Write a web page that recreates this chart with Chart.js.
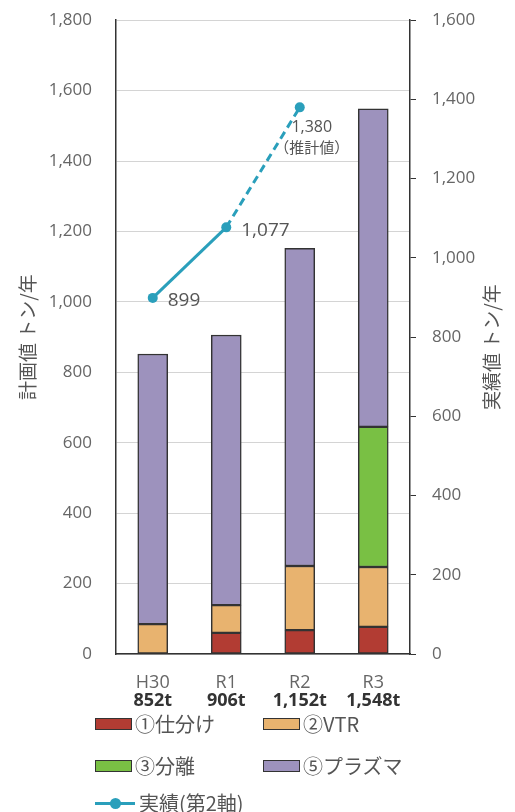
<!DOCTYPE html>
<html>
<head>
<meta charset="utf-8">
<script src="https://cdn.jsdelivr.net/npm/chart.js@4.4.0/dist/chart.umd.min.js"></script>
<style>
body{margin:0;background:#fff;width:515px;height:812px;overflow:hidden;position:relative;font-family:"Noto Sans CJK JP",sans-serif;}
#contenedor{position:absolute;left:0;top:-14px;width:515px;height:726px;}
.item{position:absolute;font-size:20px;color:#555;line-height:1;white-space:nowrap;display:flex;align-items:center;}
.caja{width:35px;height:10px;border:1.5px solid #333;margin-right:3px;}
.linea{position:relative;width:40px;height:3px;margin-right:4px;}
.punto{position:absolute;left:15px;top:-4px;width:11px;height:11px;border-radius:50%;}
</style>
</head>
<body>
<div id="contenedor"><canvas id="graficoPlan" width="515" height="726"></canvas></div>
<div id="leyenda"></div>
<script>
const categorias = ["H30", "R1", "R2", "R3"];
const totalesPlan = ["852t", "906t", "1,152t", "1,548t"];

const shiwake = [null, 60, 68, 77];
const vtr = [85, 79, 182, 170];
const bunri = [null, null, null, 398];
const plasma = [767, 767, 902, 903];
const jisseki = [899, 1077, 1380, null];
const etiquetasJisseki = [["899"], ["1,077"], ["1,380", "（推計値）"], []];

const colorLinea = "#2a9fbb";
const fuenteNum = "'Open Sans', sans-serif";
const fuenteJp = "'Noto Sans CJK JP', sans-serif";

const series = [
    { label: "①仕分け", data: shiwake, color: "#b23c33" },
    { label: "②VTR", data: vtr, color: "#e8b36f" },
    { label: "③分離", data: bunri, color: "#79c044" },
    { label: "⑤プラズマ", data: plasma, color: "#9d92bd" },
];

// etiquetas de datos de la linea y del eje x
const pluginTextos = {
    id: "textos",
    afterDatasetsDraw(chart) {
        const ctx = chart.ctx;
        const meta = chart.getDatasetMeta(series.length);
        ctx.save();
        ctx.fillStyle = "#555";
        ctx.textBaseline = "middle";
        meta.data.forEach((p, i) => {
            const lineas = etiquetasJisseki[i];
            if (!lineas.length || jisseki[i] == null) return;
            if (lineas.length === 1) {
                ctx.font = "19px " + fuenteNum;
                ctx.textAlign = "left";
                ctx.fillText(lineas[0], p.x + 15, p.y + 3);
            } else {
                ctx.textAlign = "center";
                ctx.font = "16px " + fuenteNum;
                ctx.fillText(lineas[0], p.x + 12, p.y + 20);
                ctx.font = "15px " + fuenteJp;
                ctx.fillText(lineas[1], p.x + 12, p.y + 40);
            }
        });

        const x = chart.scales.x;
        ctx.textAlign = "center";
        categorias.forEach((c, i) => {
            const px = x.getPixelForValue(i);
            ctx.font = "18px " + fuenteNum;
            ctx.fillStyle = "#666";
            ctx.fillText(c, px, x.top + 29);
            ctx.font = "bold 18px " + fuenteNum;
            ctx.fillStyle = "#333";
            ctx.fillText(totalesPlan[i], px, x.top + 47);
        });

        // titulo del eje derecho, leido de abajo hacia arriba
        const a = chart.chartArea;
        ctx.font = "19px " + fuenteJp;
        ctx.fillStyle = "#555";
        ctx.translate(492, (a.top + a.bottom) / 2 + 10);
        ctx.rotate(-Math.PI / 2);
        ctx.fillText("実績値 トン/年", 0, 0);
        ctx.restore();
    },
};

const datasets = series.map((s) => ({
    type: "bar",
    label: s.label,
    data: s.data,
    backgroundColor: s.color,
    borderColor: "#333",
    borderWidth: 1.5,
    borderSkipped: false,
    barThickness: 30,
    yAxisID: "y",
    order: 2,
}));

datasets.push({
    type: "line",
    label: "実績(第2軸)",
    data: jisseki,
    borderColor: colorLinea,
    backgroundColor: colorLinea,
    borderWidth: 3,
    pointRadius: 5,
    pointBorderWidth: 0,
    tension: 0,
    yAxisID: "y2",
    order: 1,
    segment: {
        borderDash: (ctx) => (ctx.p0DataIndex === 1 ? [8, 5] : undefined),
    },
});

const configGrafico = {
    data: { labels: categorias, datasets: datasets },
    options: {
        responsive: false,
        animation: false,
        plugins: {
            legend: { display: false },
            tooltip: { enabled: false },
        },
        scales: {
            x: {
                stacked: true,
                grid: { display: false },
                border: { color: "#333", width: 1.5 },
                ticks: { display: false },
                afterFit: (scale) => { scale.height = 58; },
            },
            y: {
                stacked: true,
                position: "left",
                min: 0,
                max: 1800,
                ticks: {
                    stepSize: 200,
                    padding: 24,
                    color: "#666",
                    font: { size: 17, family: fuenteNum },
                    callback: (v) => v.toLocaleString("en-US"),
                },
                grid: { color: "#d4d4d4", drawTicks: false },
                border: { color: "#333", width: 1.5 },
                title: {
                    display: true,
                    text: "計画値 トン/年",
                    color: "#555",
                    font: { size: 19, family: fuenteJp },
                    padding: { top: 16, bottom: 0 },
                },
                afterFit: (scale) => { scale.width = 116; },
            },
            y2: {
                position: "right",
                min: 0,
                max: 1600,
                ticks: {
                    stepSize: 200,
                    padding: 16,
                    color: "#666",
                    font: { size: 17, family: fuenteNum },
                    callback: (v) => v.toLocaleString("en-US"),
                },
                grid: { drawOnChartArea: false, tickLength: 6, color: "#333" },
                border: { color: "#333", width: 1.5 },
                afterFit: (scale) => { scale.width = 105; },
            },
        },
    },
    plugins: [pluginTextos],
};

const graficoPlan = new Chart(document.getElementById("graficoPlan"), configGrafico);

// leyenda en dos columnas
const leyenda = document.getElementById("leyenda");
const posiciones = [[95, 714], [263, 714], [95, 756], [263, 756]];
series.forEach((s, i) => {
    const d = document.createElement("div");
    d.className = "item";
    d.style.left = posiciones[i][0] + "px";
    d.style.top = posiciones[i][1] + "px";
    d.innerHTML = '<span class="caja" style="background:' + s.color + '"></span>' + s.label;
    leyenda.appendChild(d);
});
const itemLinea = document.createElement("div");
itemLinea.className = "item";
itemLinea.style.left = "95px";
itemLinea.style.top = "793px";
itemLinea.innerHTML = '<span class="linea" style="background:' + colorLinea + '"><span class="punto" style="background:' + colorLinea + '"></span></span>実績(第2軸)';
leyenda.appendChild(itemLinea);
</script>
</body>
</html>
